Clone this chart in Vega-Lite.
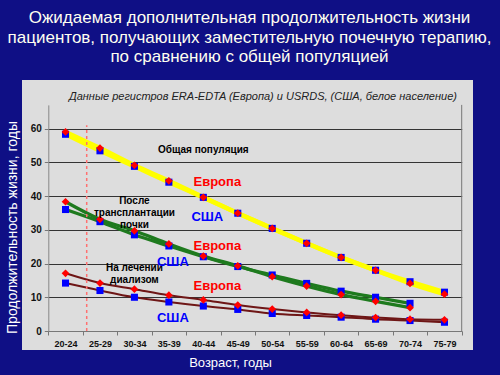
{
  "$schema": "https://vega.github.io/schema/vega-lite/v6.json",
  "width": 451,
  "height": 270,
  "autosize": {"type": "none"},
  "padding": {"left": 22, "top": 80, "right": 27, "bottom": 25},
  "background": "#0f0f85",
  "view": {"fill": "#dddddd", "stroke": null},
  "config": {
    "font": "Liberation Sans",
    "axis": {"labelFont": "Liberation Sans", "titleFont": "Liberation Sans"}
  },
  "title": {
    "text": ["Ожидаемая дополнительная продолжительность жизни", "пациентов, получающих заместительную почечную терапию,", "по сравнению с общей популяцией"],
    "font": "Liberation Sans",
    "fontSize": 17,
    "fontWeight": "normal",
    "color": "#fffff0",
    "lineHeight": 19.5,
    "anchor": "middle",
    "frame": "group",
    "dx": 2,
    "offset": 14
  },
  "datasets": {
    "series": [
      {"age": "20-24", "group": "Общая популяция", "region": "Европа", "value": 59.0},
      {"age": "25-29", "group": "Общая популяция", "region": "Европа", "value": 54.2},
      {"age": "30-34", "group": "Общая популяция", "region": "Европа", "value": 49.1},
      {"age": "35-39", "group": "Общая популяция", "region": "Европа", "value": 44.5},
      {"age": "40-44", "group": "Общая популяция", "region": "Европа", "value": 39.6},
      {"age": "45-49", "group": "Общая популяция", "region": "Европа", "value": 34.9},
      {"age": "50-54", "group": "Общая популяция", "region": "Европа", "value": 30.4},
      {"age": "55-59", "group": "Общая популяция", "region": "Европа", "value": 26.0},
      {"age": "60-64", "group": "Общая популяция", "region": "Европа", "value": 21.8},
      {"age": "65-69", "group": "Общая популяция", "region": "Европа", "value": 18.0},
      {"age": "70-74", "group": "Общая популяция", "region": "Европа", "value": 14.1},
      {"age": "75-79", "group": "Общая популяция", "region": "Европа", "value": 10.9},
      {"age": "20-24", "group": "Общая популяция", "region": "США", "value": 58.3},
      {"age": "25-29", "group": "Общая популяция", "region": "США", "value": 53.4},
      {"age": "30-34", "group": "Общая популяция", "region": "США", "value": 48.8},
      {"age": "35-39", "group": "Общая популяция", "region": "США", "value": 44.1},
      {"age": "40-44", "group": "Общая популяция", "region": "США", "value": 39.6},
      {"age": "45-49", "group": "Общая популяция", "region": "США", "value": 34.9},
      {"age": "50-54", "group": "Общая популяция", "region": "США", "value": 30.4},
      {"age": "55-59", "group": "Общая популяция", "region": "США", "value": 26.0},
      {"age": "60-64", "group": "Общая популяция", "region": "США", "value": 21.8},
      {"age": "65-69", "group": "Общая популяция", "region": "США", "value": 18.0},
      {"age": "70-74", "group": "Общая популяция", "region": "США", "value": 14.6},
      {"age": "75-79", "group": "Общая популяция", "region": "США", "value": 11.5},
      {"age": "20-24", "group": "После трансплантации", "region": "Европа", "value": 38.3},
      {"age": "25-29", "group": "После трансплантации", "region": "Европа", "value": 33.1},
      {"age": "30-34", "group": "После трансплантации", "region": "Европа", "value": 29.7},
      {"age": "35-39", "group": "После трансплантации", "region": "Европа", "value": 25.8},
      {"age": "40-44", "group": "После трансплантации", "region": "Европа", "value": 22.2},
      {"age": "45-49", "group": "После трансплантации", "region": "Европа", "value": 19.3},
      {"age": "50-54", "group": "После трансплантации", "region": "Европа", "value": 16.1},
      {"age": "55-59", "group": "После трансплантации", "region": "Европа", "value": 13.3},
      {"age": "60-64", "group": "После трансплантации", "region": "Европа", "value": 10.8},
      {"age": "65-69", "group": "После трансплантации", "region": "Европа", "value": 8.8},
      {"age": "70-74", "group": "После трансплантации", "region": "Европа", "value": 6.9},
      {"age": "20-24", "group": "После трансплантации", "region": "США", "value": 36.0},
      {"age": "25-29", "group": "После трансплантации", "region": "США", "value": 32.4},
      {"age": "30-34", "group": "После трансплантации", "region": "США", "value": 28.5},
      {"age": "35-39", "group": "После трансплантации", "region": "США", "value": 25.2},
      {"age": "40-44", "group": "После трансплантации", "region": "США", "value": 22.0},
      {"age": "45-49", "group": "После трансплантации", "region": "США", "value": 19.1},
      {"age": "50-54", "group": "После трансплантации", "region": "США", "value": 16.6},
      {"age": "55-59", "group": "После трансплантации", "region": "США", "value": 14.1},
      {"age": "60-64", "group": "После трансплантации", "region": "США", "value": 11.8},
      {"age": "65-69", "group": "После трансплантации", "region": "США", "value": 10.0},
      {"age": "70-74", "group": "После трансплантации", "region": "США", "value": 8.2},
      {"age": "20-24", "group": "На лечении диализом", "region": "Европа", "value": 17.1},
      {"age": "25-29", "group": "На лечении диализом", "region": "Европа", "value": 14.2},
      {"age": "30-34", "group": "На лечении диализом", "region": "Европа", "value": 12.4},
      {"age": "35-39", "group": "На лечении диализом", "region": "Европа", "value": 10.6},
      {"age": "40-44", "group": "На лечении диализом", "region": "Европа", "value": 9.2},
      {"age": "45-49", "group": "На лечении диализом", "region": "Европа", "value": 7.7},
      {"age": "50-54", "group": "На лечении диализом", "region": "Европа", "value": 6.5},
      {"age": "55-59", "group": "На лечении диализом", "region": "Европа", "value": 5.5},
      {"age": "60-64", "group": "На лечении диализом", "region": "Европа", "value": 4.7},
      {"age": "65-69", "group": "На лечении диализом", "region": "Европа", "value": 4.0},
      {"age": "70-74", "group": "На лечении диализом", "region": "Европа", "value": 3.5},
      {"age": "75-79", "group": "На лечении диализом", "region": "Европа", "value": 3.3},
      {"age": "20-24", "group": "На лечении диализом", "region": "США", "value": 14.2},
      {"age": "25-29", "group": "На лечении диализом", "region": "США", "value": 12.0},
      {"age": "30-34", "group": "На лечении диализом", "region": "США", "value": 10.0},
      {"age": "35-39", "group": "На лечении диализом", "region": "США", "value": 8.6},
      {"age": "40-44", "group": "На лечении диализом", "region": "США", "value": 7.4},
      {"age": "45-49", "group": "На лечении диализом", "region": "США", "value": 6.4},
      {"age": "50-54", "group": "На лечении диализом", "region": "США", "value": 5.2},
      {"age": "55-59", "group": "На лечении диализом", "region": "США", "value": 4.6},
      {"age": "60-64", "group": "На лечении диализом", "region": "США", "value": 4.1},
      {"age": "65-69", "group": "На лечении диализом", "region": "США", "value": 3.5},
      {"age": "70-74", "group": "На лечении диализом", "region": "США", "value": 3.1},
      {"age": "75-79", "group": "На лечении диализом", "region": "США", "value": 2.6}
    ],
    "notes": [
      {"label": "Общая популяция", "kind": "note", "age": "40-44", "value": 53.6},
      {"label": "После\nтрансплантации\nпочки", "kind": "note", "age": "30-34", "value": 38.5},
      {"label": "На лечении\nдиализом", "kind": "note", "age": "30-34", "value": 18.7},
      {"label": "Европа", "kind": "Европа", "age": "40-44", "value": 44.1},
      {"label": "Европа", "kind": "Европа", "age": "40-44", "value": 25.2},
      {"label": "Европа", "kind": "Европа", "age": "40-44", "value": 13.3},
      {"label": "США", "kind": "США", "age": "40-44", "value": 33.8},
      {"label": "США", "kind": "США", "age": "35-39", "value": 20.4},
      {"label": "США", "kind": "США", "age": "35-39", "value": 3.9}
    ],
    "one": [{}]
  },
  "layer": [
    {
      "data": {"name": "series"},
      "mark": {"type": "line", "interpolate": "monotone"},
      "encoding": {
        "x": {
          "field": "age", "type": "ordinal", "bandPosition": 0.5,
          "scale": {"type": "band", "domain": ["20-24", "25-29", "30-34", "35-39", "40-44", "45-49", "50-54", "55-59", "60-64", "65-69", "70-74", "75-79"], "range": [26.3, 439.7], "paddingInner": 0, "paddingOuter": 0},
          "axis": {
            "orient": "bottom", "offset": -19, "labelAngle": 0, "labelFontSize": 9, "labelFontWeight": "bold", "labelColor": "#111111",
            "labelPadding": 4, "tickBand": "extent", "tickSize": 4, "tickColor": "#777777", "domainColor": "#777777", "grid": false,
            "title": "Возраст, годы", "titleColor": "#ffffff", "titleFontSize": 13, "titleFontWeight": "normal",
            "titleX": 208, "titleY": 31, "titleBaseline": "middle", "titleAlign": "center"
          }
        },
        "y": {
          "field": "value", "type": "quantitative",
          "scale": {"domain": [0, 67], "range": [251, 24.9], "nice": false, "zero": false},
          "axis": {
            "orient": "left", "offset": -26.3, "values": [0, 10, 20, 30, 40, 50, 60], "labelFontSize": 10, "labelFontWeight": "bold", "labelColor": "#111111",
            "labelPadding": 3, "tickSize": 4, "tickColor": "#777777", "domainColor": "#888888", "grid": true, "gridColor": "#333333", "gridWidth": 1,
            "title": "Продолжительность жизни, годы", "titleColor": "#ffffff", "titleFontSize": 14, "titleFontWeight": "normal",
            "titleX": -36.3, "titleY": 147, "titleAngle": -90, "titleBaseline": "middle", "titleAlign": "center"
          }
        },
        "color": {"field": "group", "type": "nominal", "legend": null,
          "scale": {"domain": ["Общая популяция", "После трансплантации", "На лечении диализом"], "range": ["#ffff00", "#1e7a1e", "#6e1616"]}},
        "strokeWidth": {"field": "group", "type": "nominal", "legend": null,
          "scale": {"domain": ["Общая популяция", "После трансплантации", "На лечении диализом"], "range": [4.5, 2, 2]}},
        "detail": {"field": "region", "type": "nominal"}
      }
    },
    {
      "data": {"name": "one"},
      "mark": {"type": "rule", "color": "#ff7070", "strokeWidth": 1.5, "strokeDash": [3, 3]},
      "encoding": {
        "x": {"datum": "25-29", "type": "ordinal", "bandPosition": 0.115},
        "y": {"datum": 0, "type": "quantitative"},
        "y2": {"datum": 61}
      }
    },
    {
      "data": {"name": "one"},
      "mark": {"type": "rule", "color": "#777777", "strokeWidth": 1},
      "encoding": {
        "x": {"datum": "75-79", "type": "ordinal", "bandPosition": 1},
        "y": {"datum": 0, "type": "quantitative"},
        "y2": {"datum": 67}
      }
    },
    {
      "data": {"name": "series"},
      "transform": [{"filter": "datum.region === 'США'"}],
      "mark": {"type": "point", "shape": "square", "filled": true, "color": "#0000ff", "size": 50, "opacity": 1},
      "encoding": {
        "x": {"field": "age", "type": "ordinal", "bandPosition": 0.5},
        "y": {"field": "value", "type": "quantitative"}
      }
    },
    {
      "data": {"name": "series"},
      "transform": [{"filter": "datum.region === 'Европа'"}],
      "mark": {"type": "point", "shape": "diamond", "filled": true, "color": "#ff0000", "size": 60, "opacity": 1},
      "encoding": {
        "x": {"field": "age", "type": "ordinal", "bandPosition": 0.5},
        "y": {"field": "value", "type": "quantitative"}
      }
    },
    {
      "data": {"name": "one"},
      "mark": {"type": "text", "text": "Данные регистров ERA-EDTA (Европа) и USRDS, (США, белое население)", "fontStyle": "italic", "fontSize": 11, "color": "#222222", "align": "center", "baseline": "middle"},
      "encoding": {
        "x": {"datum": "50-54", "type": "ordinal", "bandPosition": 0.23},
        "y": {"datum": 69.3, "type": "quantitative"}
      }
    },
    {
      "data": {"name": "notes"},
      "transform": [{"filter": "datum.kind === 'note'"}],
      "mark": {"type": "text", "fontWeight": "bold", "fontSize": 10, "color": "#000000", "align": "center", "baseline": "middle", "lineBreak": "\n", "lineHeight": 12},
      "encoding": {
        "x": {"field": "age", "type": "ordinal", "bandPosition": 0.5},
        "y": {"field": "value", "type": "quantitative"},
        "text": {"field": "label"}
      }
    },
    {
      "data": {"name": "notes"},
      "transform": [{"filter": "datum.kind === 'Европа'"}],
      "mark": {"type": "text", "fontWeight": "bold", "fontSize": 13, "color": "#ff0000", "align": "center", "baseline": "middle", "dx": 14},
      "encoding": {
        "x": {"field": "age", "type": "ordinal", "bandPosition": 0.5},
        "y": {"field": "value", "type": "quantitative"},
        "text": {"field": "label"}
      }
    },
    {
      "data": {"name": "notes"},
      "transform": [{"filter": "datum.kind === 'США'"}],
      "mark": {"type": "text", "fontWeight": "bold", "fontSize": 13, "color": "#0000ff", "align": "center", "baseline": "middle", "dx": 4},
      "encoding": {
        "x": {"field": "age", "type": "ordinal", "bandPosition": 0.5},
        "y": {"field": "value", "type": "quantitative"},
        "text": {"field": "label"}
      }
    }
  ]
}
